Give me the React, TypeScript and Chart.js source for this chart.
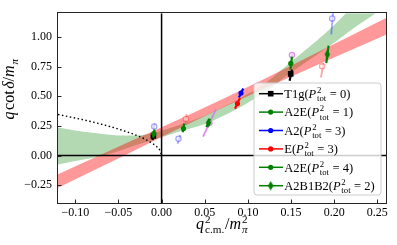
import React, { useEffect, useRef } from "react";
import { Chart, registerables } from "chart.js";

Chart.register(...registerables);

// ---------- axes ----------
const X_MIN = -0.12;
const X_MAX = 0.26;
const Y_MIN = -0.4;
const Y_MAX = 1.2;
const xTicks = [-0.1, -0.05, 0, 0.05, 0.1, 0.15, 0.2, 0.25];
const xTickLabels = ["\u22120.10", "\u22120.05", "0.00", "0.05", "0.10", "0.15", "0.20", "0.25"];
const yTicks = [-0.25, 0, 0.25, 0.5, 0.75, 1.0];
const yTickLabels = ["\u22120.25", "0.00", "0.25", "0.50", "0.75", "1.00"];

// ---------- bands ----------
const greenBandX = [-0.12, -0.1, -0.08, -0.06, -0.04, -0.02, 0, 0.02, 0.05, 0.08, 0.1, 0.12, 0.15, 0.18, 0.2, 0.22, 0.24, 0.26];
const greenBandUpper = [0.236, 0.212, 0.192, 0.176, 0.168, 0.175, 0.21, 0.255, 0.335, 0.44, 0.52, 0.61, 0.79, 0.97, 1.1, 1.25, 1.42, 1.6];
const greenBandLower = [-0.076, -0.045, -0.02, 0.015, 0.062, 0.11, 0.155, 0.2, 0.265, 0.365, 0.445, 0.535, 0.7, 0.85, 0.95, 1.06, 1.16, 1.26];

const redBandX = [-0.12, -0.04, 0.04, 0.12, 0.26];
const redBandUpper = [-0.158, 0.108, 0.372, 0.65, 1.159];
const redBandLower = [-0.272, 0.012, 0.298, 0.568, 1.019];

// dotted curve
const dotX = [-0.12, -0.1, -0.08, -0.06, -0.04, -0.03, -0.02, -0.01, -0.005, -0.002, 0];
const dotY = [0.346, 0.316, 0.283, 0.245, 0.2, 0.173, 0.141, 0.1, 0.071, 0.045, 0];

// ---------- data series ----------
type Pt = [number, number];
const t1gX = [-0.0095, 0.1496];
const t1gY = [0.165, 0.688];
const t1gLo: Pt[] = [[-0.0105, 0.13], [0.1484, 0.631]];
const t1gHi: Pt[] = [[-0.0085, 0.2], [0.151, 0.726]];

const a2e1X = [0.0254, 0.1497];
const a2e1Y = [0.228, 0.777];
const a2e1Lo: Pt[] = [[0.0245, 0.196], [0.1493, 0.726]];
const a2e1Hi: Pt[] = [[0.0262, 0.27], [0.151, 0.833]];

const a2X = [0.092];
const a2Y = [0.527];
const a2Lo: Pt[] = [[0.0896, 0.489]];
const a2Hi: Pt[] = [[0.0946, 0.565]];

const eX = [0.0879];
const eY = [0.438];
const eLo: Pt[] = [[0.085, 0.395]];
const eHi: Pt[] = [[0.0908, 0.484]];

const a2e4X = [-0.009];
const a2e4Y = [0.185];
const a2e4Lo: Pt[] = [[-0.0098, 0.15]];
const a2e4Hi: Pt[] = [[-0.0082, 0.22]];

const a2b1b2X = [0.0545, 0.192];
const a2b1b2Y = [0.276, 0.853];
const a2b1b2Lo: Pt[] = [[0.052, 0.24], [0.1908, 0.779]];
const a2b1b2Hi: Pt[] = [[0.056, 0.31], [0.1935, 0.927]];

// excluded (faint) points
const a2OutX = [-0.0085, 0.0196, 0.1977];
const a2OutY = [0.245, 0.142, 1.156];
const a2OutLo: Pt[] = [[-0.009, 0.225], [0.0185, 0.1], [0.1966, 1.021]];
const a2OutHi: Pt[] = [[-0.008, 0.27], [0.0215, 0.174], [0.1988, 1.22]];

const eOutX = [0.0282, 0.186];
const eOutY = [0.309, 0.752];
const eOutLo: Pt[] = [[0.0275, 0.28], [0.1846, 0.658]];
const eOutHi: Pt[] = [[0.029, 0.35], [0.1877, 0.779]];

const violetX = [0.0555, 0.151];
const violetY = [0.275, 0.847];
const violetLo: Pt[] = [[0.048, 0.16], [0.1505, 0.835]];
const violetHi: Pt[] = [[0.063, 0.39], [0.1515, 0.86]];

// legend
const legendNames = ["T1g", "A2E", "A2", "E", "A2E", "A2B1B2"];
const legendPtot = ["0", "1", "3", "3", "4", "2"];

const FONT = '"Liberation Serif", "Times New Roman", serif';
const GREEN = "#008000";

const diamondCache: Record<string, HTMLCanvasElement> = {};
function thinDiamond(color: string): HTMLCanvasElement {
  if (diamondCache[color]) return diamondCache[color];
  const c = document.createElement("canvas");
  c.width = 7;
  c.height = 10;
  const g = c.getContext("2d")!;
  g.fillStyle = color;
  g.beginPath();
  g.moveTo(3.5, 0.3);
  g.lineTo(6.3, 5);
  g.lineTo(3.5, 9.7);
  g.lineTo(0.7, 5);
  g.closePath();
  g.fill();
  diamondCache[color] = c;
  return c;
}

type Series = {
  color: string;
  style: "rect" | "circle" | "diamond";
  x: number[];
  y: number[];
  lo: Pt[];
  hi: Pt[];
};

const mainSeries: Series[] = [
  { color: "#000000", style: "rect", x: t1gX, y: t1gY, lo: t1gLo, hi: t1gHi },
  { color: GREEN, style: "circle", x: a2e1X, y: a2e1Y, lo: a2e1Lo, hi: a2e1Hi },
  { color: "#0000ff", style: "circle", x: a2X, y: a2Y, lo: a2Lo, hi: a2Hi },
  { color: "#ff0000", style: "circle", x: eX, y: eY, lo: eLo, hi: eHi },
  { color: GREEN, style: "circle", x: a2e4X, y: a2e4Y, lo: a2e4Lo, hi: a2e4Hi },
  { color: GREEN, style: "diamond", x: a2b1b2X, y: a2b1b2Y, lo: a2b1b2Lo, hi: a2b1b2Hi },
];

const faintSeries: Series[] = [
  { color: "rgba(0,0,255,0.35)", style: "circle", x: a2OutX, y: a2OutY, lo: a2OutLo, hi: a2OutHi },
  { color: "rgba(255,0,0,0.35)", style: "circle", x: eOutX, y: eOutY, lo: eOutLo, hi: eOutHi },
  { color: "rgba(215,120,235,0.85)", style: "circle", x: violetX, y: violetY, lo: violetLo, hi: violetHi },
];

type Part = { t?: string; it?: boolean; sup?: string; sub?: string; subIt?: boolean; gap?: number };

function richText(ctx: CanvasRenderingContext2D, parts: Part[], x: number, y: number, size: number, draw: boolean): number {
  let cx = x;
  const s = size * 0.7;
  for (const p of parts) {
    if (p.gap) cx += p.gap;
    if (p.t) {
      ctx.font = `${p.it ? "italic " : ""}${size}px ${FONT}`;
      if (draw) ctx.fillText(p.t, cx, y);
      cx += ctx.measureText(p.t).width;
    }
    if (p.sup || p.sub) {
      let w = 0;
      if (p.sup) {
        ctx.font = `${s}px ${FONT}`;
        if (draw) ctx.fillText(p.sup, cx + 0.8, y - size * 0.4);
        w = Math.max(w, ctx.measureText(p.sup).width);
      }
      if (p.sub) {
        ctx.font = `${p.subIt ? "italic " : ""}${s}px ${FONT}`;
        if (draw) ctx.fillText(p.sub, cx + 0.8, y + size * 0.27);
        w = Math.max(w, ctx.measureText(p.sub).width);
      }
      cx += w + 1.2;
    }
  }
  return cx - x;
}

function drawMarker(ctx: CanvasRenderingContext2D, style: string, x: number, y: number, color: string) {
  ctx.fillStyle = color;
  if (style === "rect") {
    ctx.fillRect(x - 2.8, y - 2.8, 5.6, 5.6);
  } else if (style === "circle") {
    ctx.beginPath();
    ctx.arc(x, y, 2.6, 0, Math.PI * 2);
    ctx.fill();
  } else {
    ctx.drawImage(thinDiamond(color), x - 3.5, y - 5);
  }
}

const decorPlugin = {
  id: "decor",
  afterDatasetsDraw(chart: any) {
    const ctx: CanvasRenderingContext2D = chart.ctx;
    const ca = chart.chartArea;
    const xs = chart.scales.x;
    const ys = chart.scales.y;
    ctx.save();
    ctx.strokeStyle = "#262626";
    ctx.lineWidth = 1;
    ctx.strokeRect(Math.round(ca.left) - 0.5, Math.round(ca.top) - 0.5, Math.round(ca.right - ca.left) + 1, Math.round(ca.bottom - ca.top) + 1);
    ctx.beginPath();
    for (const v of xTicks) {
      const px = Math.round(xs.getPixelForValue(v)) + 0.5;
      ctx.moveTo(px, ca.bottom);
      ctx.lineTo(px, ca.bottom - 3.5);
    }
    for (const v of yTicks) {
      const py = Math.round(ys.getPixelForValue(v)) + 0.5;
      ctx.moveTo(ca.left, py);
      ctx.lineTo(ca.left + 3.5, py);
    }
    ctx.stroke();
    ctx.restore();
  },
  afterDraw(chart: any) {
    const ctx: CanvasRenderingContext2D = chart.ctx;
    const ca = chart.chartArea;
    ctx.save();
    ctx.fillStyle = "#000";
    ctx.textBaseline = "alphabetic";
    ctx.textAlign = "left";
    // x label
    const xParts: Part[] = [
      { t: "q", it: true },
      { sup: "2", sub: "c.m." },
      { t: "/", gap: 0.5 },
      { t: "m", it: true },
      { sup: "2", sub: "\u03c0", subIt: true },
    ];
    const xw = richText(ctx, xParts, 0, 0, 16, false);
    richText(ctx, xParts, (ca.left + ca.right) / 2 - xw / 2, 229, 16, true);
    // y label
    const yParts: Part[] = [
      { t: "q", it: true },
      { t: "cot", gap: 1.5 },
      { t: "\u03b4", it: true, gap: 1.5 },
      { t: "/" },
      { t: "m", it: true },
      { sub: "\u03c0", subIt: true },
    ];
    const yw = richText(ctx, yParts, 0, 0, 16, false);
    ctx.save();
    ctx.translate(14, 89);
    ctx.rotate(-Math.PI / 2);
    richText(ctx, yParts, -yw / 2, 0, 16, true);
    ctx.restore();

    // legend
    const bx1 = ca.right - 5;
    const by1 = ca.bottom - 8;
    const bx0 = bx1 - 127;
    const by0 = by1 - 112;
    const r = 3;
    ctx.beginPath();
    ctx.moveTo(bx0 + r, by0);
    ctx.lineTo(bx1 - r, by0);
    ctx.arcTo(bx1, by0, bx1, by0 + r, r);
    ctx.lineTo(bx1, by1 - r);
    ctx.arcTo(bx1, by1, bx1 - r, by1, r);
    ctx.lineTo(bx0 + r, by1);
    ctx.arcTo(bx0, by1, bx0, by1 - r, r);
    ctx.lineTo(bx0, by0 + r);
    ctx.arcTo(bx0, by0, bx0 + r, by0, r);
    ctx.closePath();
    ctx.fillStyle = "rgba(255,255,255,0.8)";
    ctx.fill();
    ctx.strokeStyle = "#cccccc";
    ctx.lineWidth = 1;
    ctx.stroke();

    mainSeries.forEach((s, i) => {
      const y = by0 + 10.7 + i * 18.4;
      ctx.strokeStyle = s.color;
      ctx.lineWidth = 1.5;
      ctx.beginPath();
      ctx.moveTo(bx0 + 5, y);
      ctx.lineTo(bx0 + 29, y);
      ctx.stroke();
      drawMarker(ctx, s.style, bx0 + 16.7, y, s.color);
      ctx.fillStyle = "#000";
      const parts: Part[] = [
        { t: legendNames[i] + "(" },
        { t: "P", it: true },
        { sup: "2", sub: "tot" },
        { t: " = " + legendPtot[i] + ")" },
      ];
      richText(ctx, parts, bx0 + 30.3, y + 4.2, 12.5, true);
    });
    ctx.restore();
  },
};

function pts(xs: number[], ys: number[]) {
  return xs.map((x, i) => ({ x, y: ys[i] }));
}

function buildDatasets(): any[] {
  const ds: any[] = [];
  const base = { showLine: true, pointRadius: 0, pointHoverRadius: 0, fill: false };
  ds.push({ ...base, data: pts(greenBandX, greenBandUpper), borderWidth: 0, borderColor: "rgba(0,0,0,0)", backgroundColor: "rgba(0,128,0,0.3)", fill: "+1", cubicInterpolationMode: "monotone", order: 100 });
  ds.push({ ...base, data: pts(greenBandX, greenBandLower), borderWidth: 0, borderColor: "rgba(0,0,0,0)", cubicInterpolationMode: "monotone", order: 100 });
  ds.push({ ...base, data: pts(redBandX, redBandUpper), borderWidth: 0, borderColor: "rgba(0,0,0,0)", backgroundColor: "rgba(255,0,0,0.4)", fill: "+1", cubicInterpolationMode: "monotone", order: 90 });
  ds.push({ ...base, data: pts(redBandX, redBandLower), borderWidth: 0, borderColor: "rgba(0,0,0,0)", cubicInterpolationMode: "monotone", order: 90 });
  ds.push({ ...base, data: [{ x: 0, y: Y_MIN }, { x: 0, y: Y_MAX }], borderColor: "#000", borderWidth: 1.5, order: 80 });
  ds.push({ ...base, data: [{ x: X_MIN, y: 0 }, { x: X_MAX, y: 0 }], borderColor: "#000", borderWidth: 1.5, order: 80 });
  ds.push({ ...base, data: pts(dotX, dotY), borderColor: "#000", borderWidth: 1.4, borderDash: [1.5, 2.5], cubicInterpolationMode: "monotone", order: 70 });

  const addSeries = (s: Series, faint: boolean, orderBase: number) => {
    s.x.forEach((_, i) => {
      ds.push({ ...base, data: [{ x: s.lo[i][0], y: s.lo[i][1] }, { x: s.hi[i][0], y: s.hi[i][1] }], borderColor: s.color, borderWidth: faint ? 1.8 : 2.2, order: orderBase + 1 });
    });
    const pointStyle = s.style === "diamond" ? thinDiamond(s.color) : s.style;
    ds.push({
      data: pts(s.x, s.y),
      showLine: false,
      pointStyle,
      pointRadius: s.style === "rect" ? 4 : 2.6,
      pointHoverRadius: s.style === "rect" ? 4 : 2.6,
      pointBorderWidth: faint ? 1.3 : 0,
      pointBorderColor: s.color,
      pointBackgroundColor: faint ? "rgba(255,255,255,0.5)" : s.color,
      order: orderBase,
    });
  };
  faintSeries.forEach((s, i) => addSeries(s, true, 60 - i * 2));
  mainSeries.forEach((s, i) => addSeries(s, false, 40 - i * 2));
  return ds;
}

export default function App() {
  const ref = useRef<HTMLCanvasElement | null>(null);
  useEffect(() => {
    if (!ref.current) return;
    const chart = new Chart(ref.current, {
      type: "line",
      data: { datasets: buildDatasets() },
      options: {
        animation: false,
        responsive: false,
        devicePixelRatio: 1,
        events: [],
        parsing: false as any,
        layout: { padding: { left: 0, right: 11, top: 5, bottom: 0 } },
        plugins: { legend: { display: false }, tooltip: { enabled: false } },
        scales: {
          x: {
            type: "linear",
            min: X_MIN,
            max: X_MAX,
            grid: { display: false, drawTicks: false },
            border: { display: false },
            afterBuildTicks: (s: any) => {
              s.ticks = xTicks.map((v) => ({ value: v }));
            },
            afterFit: (s: any) => {
              s.height = 42;
            },
            ticks: {
              padding: 3,
              maxRotation: 0,
              autoSkip: false,
              color: "#000",
              font: { family: FONT, size: 12 },
              callback: (_v: any, i: number) => xTickLabels[i],
            },
          },
          y: {
            type: "linear",
            min: Y_MIN,
            max: Y_MAX,
            grid: { display: false, drawTicks: false },
            border: { display: false },
            afterBuildTicks: (s: any) => {
              s.ticks = yTicks.map((v) => ({ value: v }));
            },
            afterFit: (s: any) => {
              s.width = 58;
            },
            ticks: {
              padding: 6,
              autoSkip: false,
              color: "#000",
              font: { family: FONT, size: 12 },
              callback: (_v: any, i: number) => yTickLabels[i],
            },
          },
        },
      },
      plugins: [decorPlugin],
    } as any);
    return () => chart.destroy();
  }, []);
  return (
    <div style={{ position: "absolute", left: 0, top: 0, width: 397, height: 245, background: "#fff" }}>
      <canvas ref={ref} width={397} height={245} style={{ display: "block", width: 397, height: 245 }} />
    </div>
  );
}
